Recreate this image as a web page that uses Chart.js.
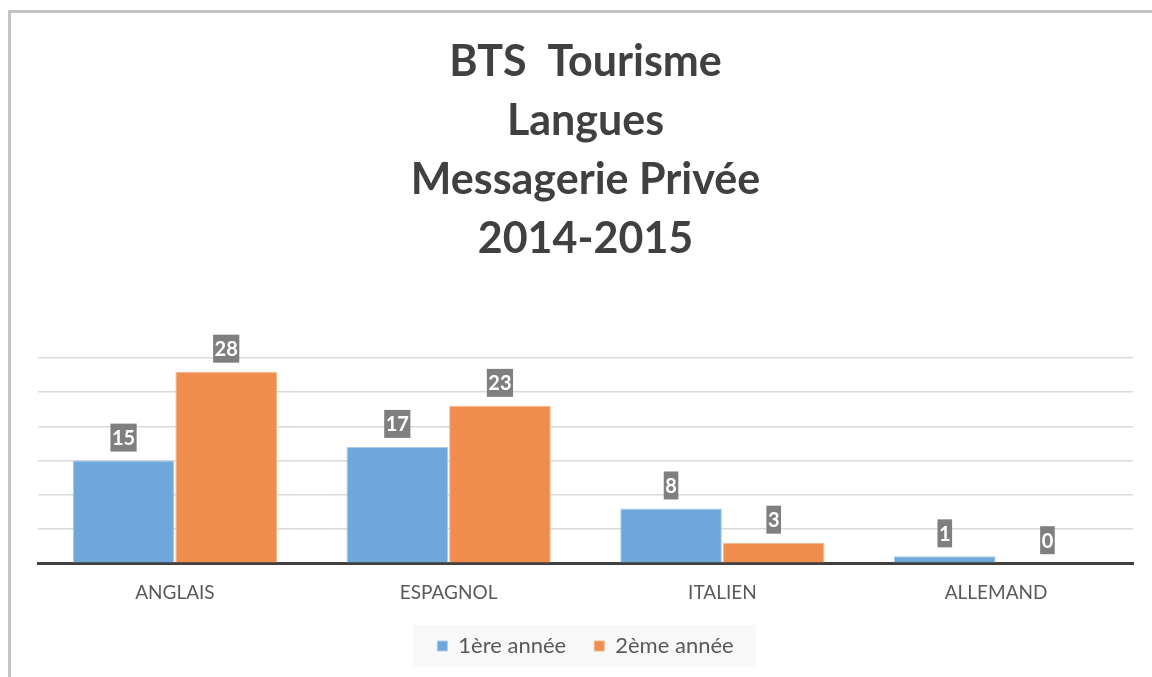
<!DOCTYPE html>
<html lang="fr">
<head>
  <meta charset="UTF-8" />
  <title>BTS Tourisme - Langues</title>
  <script src="https://cdn.jsdelivr.net/npm/chart.js"></script>
  <style>
    body {
      margin: 0;
      padding: 0;
      background: #ffffff;
    }
    #wrap {
      width: 1152px;
      height: 677px;
    }
  </style>
</head>
<body>
  <div id="wrap">
    <canvas id="chart" width="1152" height="677"></canvas>
  </div>

  <script>
    const categories = ["ANGLAIS", "ESPAGNOL", "ITALIEN", "ALLEMAND"];
    const premiereAnnee = [15, 17, 8, 1];
    const deuxiemeAnnee = [28, 23, 3, 0];
    const seriesNames = ["1ère année", "2ème année"];
    const titleLines = ["BTS  Tourisme", "Langues", "Messagerie Privée", "2014-2015"];

    const FONT = "Lato, 'Open Sans', sans-serif";

    // outer frame + grey box behind the legend
    const framePlugin = {
      id: "frame",
      beforeDraw(chart) {
        const ctx = chart.ctx;
        ctx.save();
        ctx.fillStyle = "#ffffff";
        ctx.fillRect(0, 0, chart.width, chart.height);
        ctx.strokeStyle = "#c3c3c3";
        ctx.lineWidth = 3;
        ctx.strokeRect(9.5, 11.5, 1300, 800);

        const boxes = chart.legend.legendHitBoxes;
        if (boxes && boxes.length) {
          const left = Math.min(...boxes.map(b => b.left));
          const right = Math.max(...boxes.map(b => b.left + b.width));
          const mid = boxes[0].top + boxes[0].height / 2;
          ctx.fillStyle = "#f8f8f8";
          ctx.fillRect(left - 24, mid - 21, right - left + 46, 42);
        }
        ctx.restore();
      }
    };

    // value labels in grey boxes above each bar
    const valueLabels = {
      id: "valueLabels",
      afterDatasetsDraw(chart) {
        const ctx = chart.ctx;
        ctx.save();
        ctx.font = "bold 20px " + FONT;
        ctx.textAlign = "center";
        ctx.textBaseline = "middle";
        chart.data.datasets.forEach((ds, i) => {
          chart.getDatasetMeta(i).data.forEach((bar, j) => {
            const txt = String(ds.data[j]);
            const w = ctx.measureText(txt).width + 3;
            const h = 28;
            const bottom = bar.y - 9;
            ctx.fillStyle = "#7f7f7f";
            ctx.fillRect(bar.x - w / 2, bottom - h, w, h);
            ctx.fillStyle = "#ffffff";
            ctx.fillText(txt, bar.x, bottom - h / 2 + 1);
          });
        });
        ctx.restore();
      }
    };

    new Chart(document.getElementById("chart"), {
      type: "bar",
      data: {
        labels: categories,
        datasets: [
          {
            label: seriesNames[0],
            data: premiereAnnee,
            backgroundColor: "#6fa7db",
            borderColor: "#a9cbeb",
            borderWidth: 1
          },
          {
            label: seriesNames[1],
            data: deuxiemeAnnee,
            backgroundColor: "#ee8d4d",
            borderColor: "#f5b78c",
            borderWidth: 1
          }
        ]
      },
      options: {
        responsive: false,
        animation: false,
        categoryPercentage: 0.75,
        barPercentage: 0.99,
        layout: {
          padding: { left: 38, right: 19, top: 20, bottom: 10 }
        },
        plugins: {
          title: {
            display: true,
            text: titleLines,
            color: "#404040",
            font: { family: FONT, size: 43, weight: "bold", lineHeight: 1.372 },
            padding: { top: 13, bottom: 89 }
          },
          legend: {
            position: "bottom",
            labels: {
              color: "#595959",
              font: { family: FONT, size: 22 },
              boxWidth: 10,
              boxHeight: 10,
              padding: 28
            }
          },
          tooltip: { enabled: false }
        },
        scales: {
          x: {
            grid: { display: false, drawTicks: false },
            border: { display: true, color: "#404040", width: 3 },
            ticks: {
              color: "#595959",
              font: { family: FONT, size: 19 },
              padding: 18
            },
            afterFit(scale) {
              scale.height -= 15;
            }
          },
          y: {
            min: 0,
            max: 30,
            ticks: { display: false, stepSize: 5 },
            border: { display: false },
            grid: { color: "#d9d9d9", lineWidth: 1.5, drawTicks: false }
          }
        }
      },
      plugins: [framePlugin, valueLabels]
    });
  </script>
</body>
</html>
